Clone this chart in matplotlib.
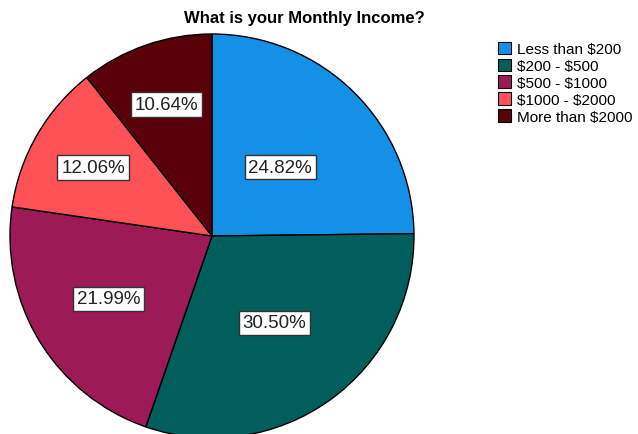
import numpy as np
import matplotlib.pyplot as plt
from matplotlib.patches import Patch

plt.rcParams['font.family'] = ['Liberation Sans', 'DejaVu Sans']
plt.rcParams['text.parse_math'] = False

categories = ['Less than $200', '$200 - $500', '$500 - $1000', '$1000 - $2000', 'More than $2000']
percents = [24.82, 30.50, 21.99, 12.06, 10.64]
colors = ['#1490e6', '#005f5c', '#9c1a55', '#ff5257', '#5a0008']
label_radius = [0.48, 0.53, 0.60, 0.68, 0.69]

W, H = 638, 435
fig = plt.figure(figsize=(W / 100, H / 100), dpi=100)

cx, cy, r = 212, 237, 202
ax = fig.add_axes([(cx - r) / W, (H - cy - r) / H, 2 * r / W, 2 * r / H])
wedges, _ = ax.pie(percents, colors=colors, startangle=90, counterclock=False,
                   radius=1, wedgeprops=dict(edgecolor='black', linewidth=1))
ax.set_xlim(-1, 1)
ax.set_ylim(-1, 1)
ax.set_aspect('auto')
ax.axis('off')

for w, p, d in zip(wedges, percents, label_radius):
    ang = np.deg2rad((w.theta1 + w.theta2) / 2)
    ax.text(d * np.cos(ang), d * np.sin(ang), f'{p:.2f}%', ha='center', va='center',
            fontsize=13.5, color='#222222',
            bbox=dict(boxstyle='square,pad=0.2', facecolor='white', edgecolor='#333333', linewidth=1))

fig.text(304 / W, 1 - 18 / H, 'What is your Monthly Income?', ha='center', va='center',
         fontsize=12, fontweight='bold')

handles = [Patch(facecolor=c, edgecolor='black', linewidth=0.8) for c in colors]
fig.legend(handles, categories, loc='upper left', bbox_to_anchor=(490 / W, 1 - 35 / H),
           frameon=False, fontsize=11, handlelength=0.9, handleheight=0.9,
           handletextpad=0.35, labelspacing=0.15, borderpad=0)

fig.savefig('out.png', dpi=100)
